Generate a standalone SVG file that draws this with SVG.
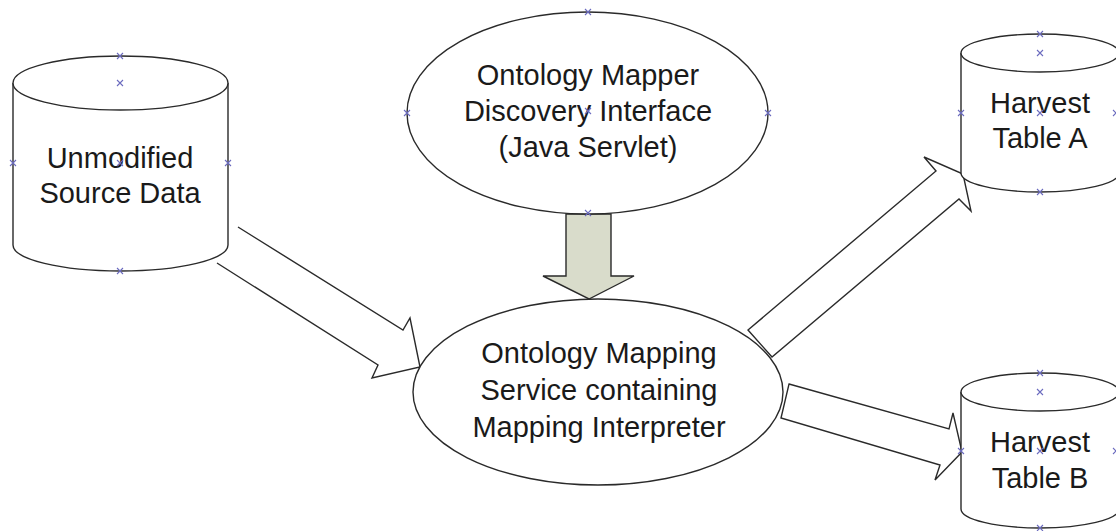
<svg xmlns="http://www.w3.org/2000/svg" width="1116" height="531" viewBox="0 0 1116 531">
<style>
.shape{fill:#ffffff;stroke:#2a2a2a;stroke-width:1.4}
.arrow{fill:#ffffff;stroke:#2a2a2a;stroke-width:1.4;stroke-linejoin:miter}
.garrow{fill:#d9dccb;stroke:#2a2a2a;stroke-width:1.4}
.lbl{font-family:"Liberation Sans",Arial,sans-serif;font-size:29px;fill:#1a1a1a;text-anchor:middle}
.xm{stroke:#6b6bbf;stroke-width:1.1;fill:none}
</style>
<defs>
<path id="x" class="xm" d="M-3,-3L3,3M-3,3L3,-3"/>
</defs>
<rect width="1116" height="531" fill="#ffffff"/>
<g id="connectors">
<polyline class="arrow" points="238,227 403,330 410,318 420,367 372,378 378,365 217,263"/>
<polygon class="arrow" points="748,330 936,171 924,157 963,174 971,211 959,199 772,357"/>
<polygon class="arrow" points="789,384 949,429 953,413 962,452 935,480 940,465 781,418"/>
<polygon class="garrow" points="566,214 611,214 611,276 634,276 589,299 543,276 566,276"/>
</g>
<g id="source">
<path class="shape" d="M13,83 L13,245 A107.5,26 0 0 0 228,245 L228,83 A107.5,27 0 0 0 13,83 Z"/>
<path class="shape" fill="none" d="M13,83 A107.5,27 0 0 0 228,83"/>
<text class="lbl" x="120" y="168">Unmodified</text>
<text class="lbl" x="120" y="203">Source Data</text>
</g>
<g id="discovery">
<ellipse class="shape" cx="587.5" cy="113" rx="180.5" ry="101"/>
<text class="lbl" x="588" y="85">Ontology Mapper</text>
<text class="lbl" x="588" y="121">Discovery Interface</text>
<text class="lbl" x="588" y="157">(Java Servlet)</text>
</g>
<g id="mapping">
<ellipse class="shape" cx="598" cy="392" rx="185" ry="93"/>
<text class="lbl" x="599" y="363">Ontology Mapping</text>
<text class="lbl" x="599" y="400">Service containing</text>
<text class="lbl" x="599" y="437">Mapping Interpreter</text>
</g>
<g id="harvestA">
<path class="shape" d="M961,53 L961,173 A79,19 0 0 0 1119,173 L1119,53 A79,19 0 0 0 961,53 Z"/>
<path class="shape" fill="none" d="M961,53 A79,19 0 0 0 1119,53"/>
<text class="lbl" x="1040" y="113">Harvest</text>
<text class="lbl" x="1040" y="148">Table A</text>
</g>
<g id="harvestB">
<path class="shape" d="M961,392 L961,509 A79,19 0 0 0 1119,509 L1119,392 A79,19 0 0 0 961,392 Z"/>
<path class="shape" fill="none" d="M961,392 A79,19 0 0 0 1119,392"/>
<text class="lbl" x="1040" y="452">Harvest</text>
<text class="lbl" x="1040" y="488">Table B</text>
</g>
<g id="handles">
<use href="#x" x="120" y="56"/><use href="#x" x="120" y="83"/><use href="#x" x="13" y="163"/><use href="#x" x="228" y="163"/><use href="#x" x="120" y="163"/><use href="#x" x="120" y="271"/>
<use href="#x" x="588" y="12"/><use href="#x" x="407" y="113"/><use href="#x" x="768" y="113"/><use href="#x" x="588" y="111"/><use href="#x" x="588" y="213"/>
<use href="#x" x="1040" y="34"/><use href="#x" x="1040" y="53"/><use href="#x" x="961" y="113"/><use href="#x" x="1040" y="113"/><use href="#x" x="1116" y="113"/><use href="#x" x="1040" y="192"/>
<use href="#x" x="1040" y="373"/><use href="#x" x="1040" y="392"/><use href="#x" x="961" y="451"/><use href="#x" x="1040" y="451"/><use href="#x" x="1116" y="451"/><use href="#x" x="1040" y="528"/>
</g>
</svg>
